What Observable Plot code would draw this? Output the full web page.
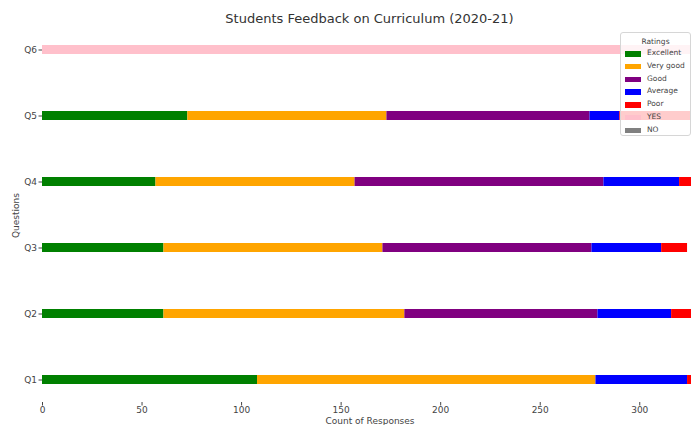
<!DOCTYPE html>
<html>
<head>
<meta charset="utf-8">
<script src="https://cdn.jsdelivr.net/npm/d3@7"></script>
<script src="https://cdn.jsdelivr.net/npm/@observablehq/plot@0.6"></script>
<style>
  html, body { margin: 0; padding: 0; background: #fff; overflow: hidden; }
  #wrap { position: relative; width: 691px; height: 425px; overflow: hidden; font-family: "DejaVu Sans", sans-serif; }
  #chart svg { max-width: none !important; width: 697px !important; height: 425px !important; display: block; }
  #title { position: absolute; left: 42px; width: 655px; top: 11px; text-align: center; font-size: 13px; color: #333; }
  #legend { position: absolute; left: 620px; top: 32px; width: 71px; height: 104px; background: rgba(255,255,255,0.8); border: 1px solid #d6d6d6; border-radius: 3px; box-sizing: border-box; font-size: 7.5px; color: #444; }
  #legend .lt { text-align: center; margin-top: 4px; height: 11px; }
  #legend .row { position: relative; height: 12.8px; }
  #legend .sw { position: absolute; left: 4px; top: 3px; width: 16px; height: 5.5px; }
  #legend .lb { position: absolute; left: 26px; top: 0px; }
</style>
</head>
<body>
<div id="wrap">
  <div id="chart"></div>
  <div id="title"></div>
  <div id="legend"></div>
</div>
<script>
const title = "Students Feedback on Curriculum (2020-21)";
const questions = ["Q1", "Q2", "Q3", "Q4", "Q5", "Q6"];
const ratings = ["Excellent", "Very good", "Good", "Average", "Poor", "YES", "NO"];
const ratingColors = ["#008000", "#FFA500", "#800080", "#0000FF", "#FF0000", "#FFC0CB", "#808080"];
const excellent = [108, 61, 61, 57, 73, 0];
const veryGood  = [170, 121, 110, 100, 100, 0];
const good      = [0, 97, 105, 125, 102, 0];
const average   = [46, 37, 35, 38, 15, 0];
const poor      = [6, 14, 13, 10, 40, 0];
const yes       = [0, 0, 0, 0, 0, 330];
const no        = [0, 0, 0, 0, 0, 5];
const xTicks = [0, 50, 100, 150, 200, 250, 300];

const series = [excellent, veryGood, good, average, poor, yes, no];
const rows = [];
questions.forEach((q, i) => {
  ratings.forEach((r, j) => {
    rows.push({question: q, rating: r, value: series[j][i]});
  });
});

document.getElementById("title").textContent = title;

const chart = Plot.plot({
  width: 697,
  height: 425,
  marginTop: 28,
  marginBottom: 23,
  marginLeft: 42,
  marginRight: 0,
  style: {fontFamily: "DejaVu Sans, sans-serif", fontSize: "9px", color: "#444", background: "transparent"},
  x: {domain: [0, 329]},
  y: {domain: questions.slice().reverse(), paddingInner: 0.86, paddingOuter: 0.26},
  color: {domain: ratings, range: ratingColors},
  marks: [
    Plot.barX(rows, Plot.stackX({x: "value", y: "question", fill: "rating", clip: true})),
    Plot.axisX({ticks: xTicks, tickSize: 3.5, tickPadding: 1, line: true, label: "Count of Responses", labelAnchor: "center", labelArrow: "none", labelOffset: 21}),
    Plot.axisY({tickSize: 3.5, tickPadding: 2, line: true, label: "Questions", labelAnchor: "center", labelArrow: "none", labelOffset: 30})
  ]
});
document.getElementById("chart").appendChild(chart);

const lg = document.getElementById("legend");
const lt = document.createElement("div");
lt.className = "lt";
lt.textContent = "Ratings";
lg.appendChild(lt);
ratings.forEach((r, j) => {
  const row = document.createElement("div");
  row.className = "row";
  const sw = document.createElement("span");
  sw.className = "sw";
  sw.style.background = ratingColors[j];
  const lb = document.createElement("span");
  lb.className = "lb";
  lb.textContent = r;
  row.appendChild(sw);
  row.appendChild(lb);
  lg.appendChild(row);
});
</script>
</body>
</html>
